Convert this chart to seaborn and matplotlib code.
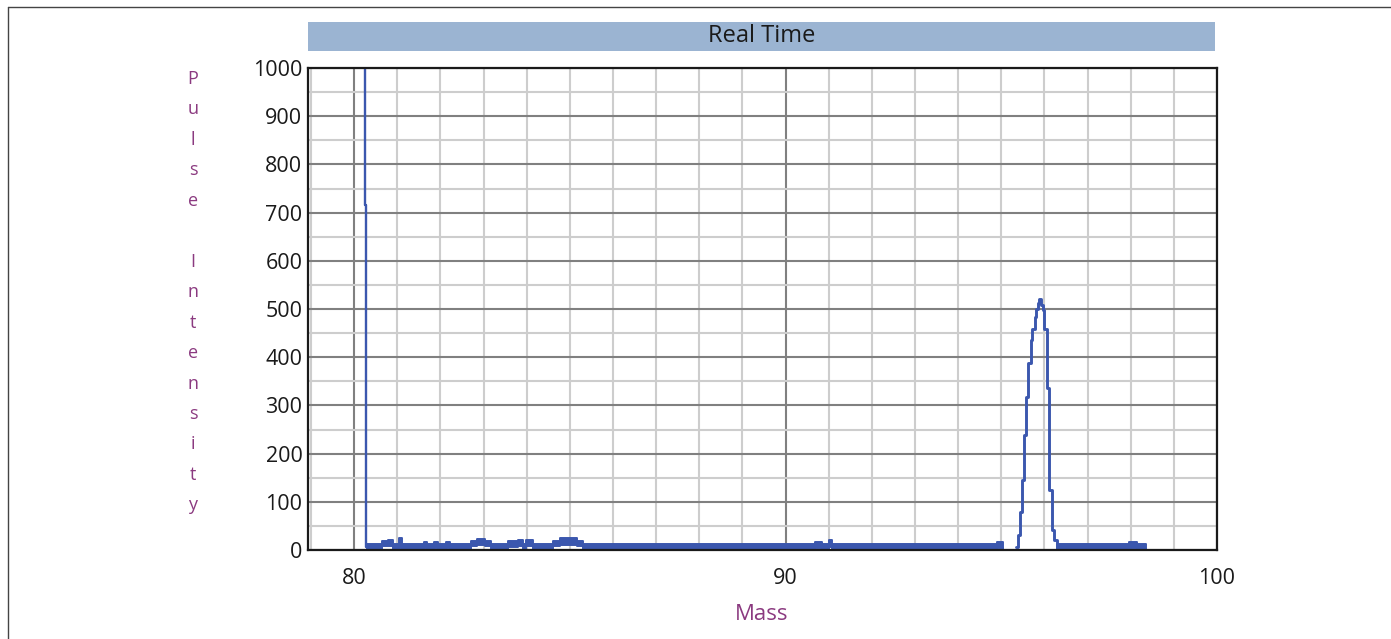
import numpy as np
import pandas as pd
import seaborn as sns
import matplotlib as mpl
mpl.use('Agg')
import matplotlib.pyplot as plt
from matplotlib.patches import Rectangle
from matplotlib.lines import Line2D
from matplotlib.ticker import MultipleLocator

# spike at the left edge (steps-post)
spike_mass = [80.235, 80.245, 80.285, 80.30]
spike_int = [1100, 715, 6, 6]

# main peak near mass 96 (steps-post)
peak_mass = [95.33, 95.38, 95.43, 95.47, 95.53, 95.58, 95.63, 95.68, 95.72, 95.77,
             95.81, 95.84, 95.88, 95.92, 95.96, 95.99, 96.05, 96.10, 96.17, 96.23,
             96.28, 96.32]
peak_int = [6, 31, 79, 145, 238, 318, 387, 436, 458, 483,
            500, 513, 521, 508, 498, 458, 336, 124, 41, 21,
            6, 6]

# noisy baseline band: lower / upper envelope (steps-post), nan = gap under the peak
band_mass = [80.29, 80.65, 80.79, 80.91, 81.04, 81.11, 81.61, 81.69, 81.85, 81.94,
             82.14, 82.22, 82.71, 82.84, 83.04, 83.17, 83.57, 83.79, 83.91, 83.99,
             84.14, 84.61, 84.77, 85.17, 85.31, 90.68, 90.84, 91.00, 91.08, 94.89,
             95.05, 95.38, 96.28, 97.95, 98.14, 98.35]
band_lo = [1, 8, 9, 1, 5, 1, 5, 1, 5, 1,
           5, 1, 8, 10, 8, 1, 7, 9, 3, 9,
           1, 8, 10, 8, 1, 5, 1, 6, 1, 5,
           1, np.nan, 1, 5, 1, 1]
band_hi = [13, 19, 21, 13, 24, 13, 17, 13, 17, 13,
           17, 13, 19, 23, 19, 13, 18, 21, 13, 21,
           13, 19, 24, 19, 13, 17, 13, 20, 13, 17,
           13, np.nan, 13, 17, 13, 13]

x_ticks = [80, 90, 100]
y_ticks = [0, 100, 200, 300, 400, 500, 600, 700, 800, 900, 1000]

blue = '#3b57ae'
purple = '#8b3a80'

sns.set_style('white')
plt.rcParams['font.family'] = ['Open Sans', 'DejaVu Sans']

fig = plt.figure(figsize=(13.91, 6.39), dpi=100)
ax = fig.add_axes([308 / 1391, 1 - 550 / 639, 909 / 1391, 482 / 639])

spike_df = pd.DataFrame({'mass': spike_mass, 'intensity': spike_int})
peak_df = pd.DataFrame({'mass': peak_mass, 'intensity': peak_int})
sns.lineplot(data=spike_df, x='mass', y='intensity', ax=ax, color=blue, lw=1.7,
             drawstyle='steps-post', estimator=None, sort=False)
sns.lineplot(data=peak_df, x='mass', y='intensity', ax=ax, color=blue, lw=2.1,
             drawstyle='steps-post', estimator=None, sort=False)
ax.fill_between(band_mass, band_lo, band_hi, step='post', color=blue, lw=1.4,
                edgecolor=blue)

ax.set_xlim(78.93, 100)
ax.set_ylim(0, 1000)
ax.set_xticks(x_ticks)
ax.set_yticks(y_ticks)
ax.xaxis.set_minor_locator(MultipleLocator(1))
ax.yaxis.set_minor_locator(MultipleLocator(50))
ax.grid(which='major', color='#808080', lw=1.5)
ax.grid(which='minor', color='#cdcdcd', lw=1.5)
ax.set_axisbelow(True)
ax.tick_params(which='both', length=0)
ax.tick_params(axis='x', labelsize=15.5, pad=13, labelcolor='#1a1a1a')
ax.tick_params(axis='y', labelsize=15.5, pad=4, labelcolor='#1a1a1a')
for s in ax.spines.values():
    s.set_visible(True)
    s.set_color('#1a1a1a')
    s.set_linewidth(1.6)

ax.set_xlabel('Mass', fontsize=16, color=purple)
ax.xaxis.set_label_coords(0.4995, -0.133)
ax.xaxis.label.set_va('center')
ax.set_ylabel('\n'.join('Pulse Intensity'), fontsize=13, color=purple,
              rotation=0, linespacing=1.89, ha='center', va='center')
ax.yaxis.set_label_coords(-0.1265, 0.535)

# title banner
ax.add_patch(Rectangle((0, 1.035), 0.998, 0.06, transform=ax.transAxes,
                       facecolor='#9bb4d2', edgecolor='none', clip_on=False))
ax.text(0.4995, 1.066, 'Real Time', transform=ax.transAxes, ha='center',
        va='center', fontsize=17, color='#1a1a1a')

# outer frame (top and left edges)
fig.add_artist(Line2D([8 / 1391, 1], [1 - 7 / 639, 1 - 7 / 639],
                      transform=fig.transFigure, color='#444444', lw=1))
fig.add_artist(Line2D([8 / 1391, 8 / 1391], [0, 1 - 7 / 639],
                      transform=fig.transFigure, color='#444444', lw=1))

fig.savefig('out.png', dpi=100, facecolor='white')
